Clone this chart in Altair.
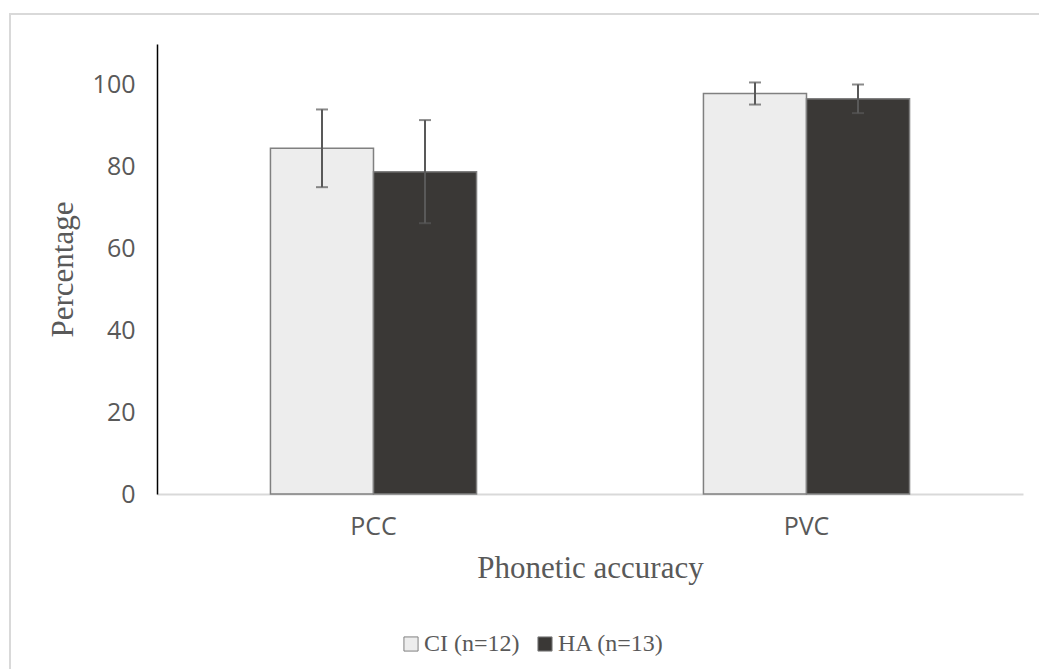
import altair as alt
import pandas as pd

measures = ["PCC", "PCC", "PVC", "PVC"]
groups = ["CI (n=12)", "HA (n=13)", "CI (n=12)", "HA (n=13)"]
means = [84.5, 78.8, 97.9, 96.6]
errors = [9.5, 12.6, 2.7, 3.5]
group_order = ["CI (n=12)", "HA (n=13)"]
group_colors = ["#ededed", "#3a3836"]
y_ticks = [0, 20, 40, 60, 80, 100]

df = pd.DataFrame({
    "measure": measures,
    "group": groups,
    "mean": means,
    "lo": [m - e for m, e in zip(means, errors)],
    "hi": [m + e for m, e in zip(means, errors)],
})

W, H = 866, 450
PAD_L, PAD_T = 157, 44
PAD_R = 1039 - PAD_L - W
PAD_B = 669 - PAD_T - H

x_enc = alt.X(
    "measure:N",
    scale=alt.Scale(paddingInner=0.524, paddingOuter=0.262),
    axis=alt.Axis(
        title="Phonetic accuracy", labelAngle=0, ticks=False,
        domainColor="#d9d9d9", domainWidth=2,
        labelFont="Open Sans", labelFontSize=25, labelColor="#595959",
        labelPadding=20,
        titleFont="Liberation Serif", titleFontSize=31, titleFontWeight="normal",
        titleColor="#595959", titlePadding=14,
    ),
)
xo_enc = alt.XOffset("group:N", sort=group_order, scale=alt.Scale(paddingInner=0, paddingOuter=0))
y_scale = alt.Scale(domain=[0, 110], nice=False)

base = alt.Chart(df)

bars = base.mark_bar(stroke="#808080", strokeWidth=1.5).encode(
    x=x_enc,
    xOffset=xo_enc,
    y=alt.Y(
        "mean:Q", scale=y_scale,
        axis=alt.Axis(
            values=y_ticks, title="Percentage", grid=False, ticks=False,
            domainColor="#000000", domainWidth=1.5,
            labelFont="Open Sans", labelFontSize=25, labelColor="#595959",
            labelPadding=22,
            titleFont="Liberation Serif", titleFontSize=31, titleFontWeight="normal",
            titleColor="#595959", titlePadding=13,
        ),
    ),
    color=alt.Color(
        "group:N", sort=group_order,
        scale=alt.Scale(domain=group_order, range=group_colors),
        legend=alt.Legend(
            title=None, orient="none", direction="horizontal",
            legendX=242, legendY=588,
            symbolType="square", symbolSize=200, symbolStrokeColor="#808080",
            symbolStrokeWidth=1, labelFont="Liberation Serif", labelFontSize=24,
            labelColor="#595959", labelOffset=1, columnPadding=13,
        ),
    ),
)

err = base.mark_rule(color="#595959", strokeWidth=2).encode(
    x="measure:N", xOffset=xo_enc, y=alt.Y("lo:Q", scale=y_scale), y2="hi:Q"
)
cap_lo = base.mark_tick(color="#595959", thickness=2, size=12, orient="horizontal").encode(
    x="measure:N", xOffset=xo_enc, y=alt.Y("lo:Q", scale=y_scale)
)
cap_hi = base.mark_tick(color="#595959", thickness=2, size=12, orient="horizontal").encode(
    x="measure:N", xOffset=xo_enc, y=alt.Y("hi:Q", scale=y_scale)
)

frame = alt.Chart(pd.DataFrame({"f": [0]})).mark_rect(
    fill=None, stroke="#d9d9d9", strokeWidth=2
).encode(
    x=alt.value(10 - PAD_L), x2=alt.value(1060 - PAD_L),
    y=alt.value(14 - PAD_T), y2=alt.value(700 - PAD_T),
)

chart = alt.layer(bars, err, cap_lo, cap_hi, frame).properties(
    width=W, height=H,
    autosize=alt.AutoSizeParams(type="none"),
    padding={"left": PAD_L, "top": PAD_T, "right": PAD_R, "bottom": PAD_B},
    background="white",
).configure_view(stroke=None)

chart.save("out.html", embed_options={"renderer": "svg", "actions": False})
